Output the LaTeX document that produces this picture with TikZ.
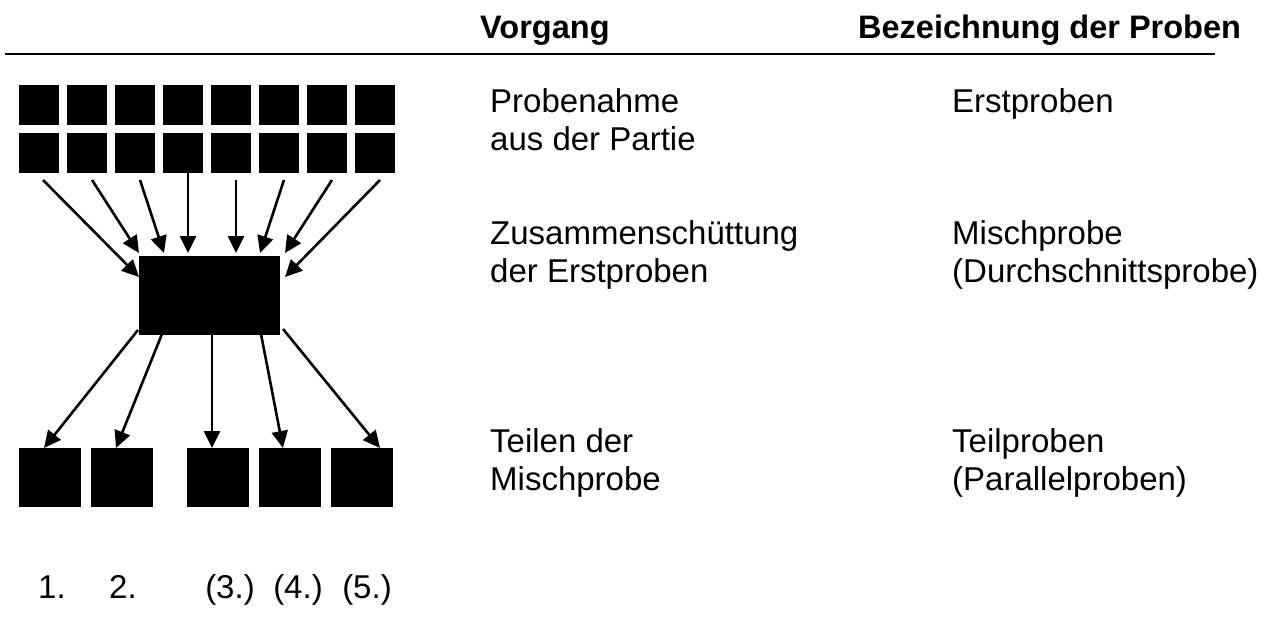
\documentclass[tikz,border=0pt]{standalone}
\usepackage{fontspec}
\setmainfont{Liberation Sans}
\usetikzlibrary{arrows.meta}
\begin{document}
\begin{tikzpicture}[x=1pt,y=-1pt,
  sq/.style={fill=black,draw=none,minimum width=40pt,minimum height=40pt,inner sep=0pt},
  bsq/.style={fill=black,draw=none,minimum width=62pt,minimum height=59pt,inner sep=0pt},
  txt/.style={font=\fontsize{33}{38}\selectfont,inner sep=0pt,anchor=base west},
  hdr/.style={font=\fontsize{32.5}{38}\selectfont\bfseries,inner sep=0pt,anchor=base west},
  num/.style={font=\fontsize{33}{38}\selectfont,inner sep=0pt,anchor=base},
  arr/.style={line width=2.6pt,-{Triangle[length=17pt,width=16pt]}}]
\useasboundingbox (0,0) rectangle (1274,637);
% header
\node[hdr] (h1) at (480,38) {Vorgang};
\node[hdr] (h2) at (858,38) {Bezeichnung der Proben};
\coordinate (l1) at (5,54);
\coordinate (l2) at (1215,54);
\draw[line width=2pt] (l1) -- (l2);
% top squares
\foreach \i/\x in {1/39,2/87,3/135,4/183,5/231,6/279,7/327,8/375}{
  \node[sq] (a\i) at (\x,104.5) {};
  \node[sq] (t\i) at (\x,152.5) {};
}
% mixing box
\node[fill=black,draw=none,minimum width=141pt,minimum height=79pt,inner sep=0pt] (m) at (209.5,295.5) {};
% bottom squares
\foreach \i/\x in {1/50,2/122,3/218,4/290,5/362}{
  \node[bsq] (b\i) at (\x,477.5) {};
}
% top arrows
\coordinate (s1) at (43,180);  \coordinate (e1) at (139,277);
\coordinate (s2) at (92,180);  \coordinate (e2) at (139,253);
\coordinate (s3) at (140,180); \coordinate (e3) at (164,253);
\coordinate (e4) at (188,253);
\coordinate (s5) at (236,180); \coordinate (e5) at (236,253);
\coordinate (s6) at (284,180); \coordinate (e6) at (260,253);
\coordinate (s7) at (332,180); \coordinate (e7) at (285,253);
\coordinate (s8) at (380,180); \coordinate (e8) at (285,277);
\draw[arr] (s1) -- (e1);
\draw[arr] (s2) -- (e2);
\draw[arr] (s3) -- (e3);
\draw[arr] (t4.south -| e4) -- (e4);
\draw[arr] (s5) -- (e5);
\draw[arr] (s6) -- (e6);
\draw[arr] (s7) -- (e7);
\draw[arr] (s8) -- (e8);
% bottom arrows
\coordinate (u1) at (138,330); \coordinate (v1) at (44,448);
\coordinate (u2) at (162,334); \coordinate (v2) at (116,448);
\coordinate (u3) at (212,334); \coordinate (v3) at (212,448);
\coordinate (u4) at (261,334); \coordinate (v4) at (283,448);
\coordinate (u5) at (283,329); \coordinate (v5) at (380,448);
\draw[arr] (u1) -- (v1);
\draw[arr] (u2) -- (v2);
\draw[arr] (u3) -- (v3);
\draw[arr] (u4) -- (v4);
\draw[arr] (u5) -- (v5);
% numbers
\node[num] (n1) at (52,598) {1.};
\node[num] (n2) at (123,598) {2.};
\node[num] (n3) at (230,598) {(3.)};
\node[num] (n4) at (298,598) {(4.)};
\node[num] (n5) at (367,598) {(5.)};
% text column 1
\node[txt] (p1) at (490,112) {Probenahme};
\node[txt] (p2) at (490,150) {aus der Partie};
\node[txt] (z1) at (490,244) {Zusammenschüttung};
\node[txt] (z2) at (490,282) {der Erstproben};
\node[txt] (q1) at (490,452) {Teilen der};
\node[txt] (q2) at (490,490) {Mischprobe};
% text column 2
\node[txt] (r1) at (952,112) {Erstproben};
\node[txt] (r2) at (952,244) {Mischprobe};
\node[txt] (r3) at (952,282) {(Durchschnittsprobe)};
\node[txt] (r4) at (952,452) {Teilproben};
\node[txt] (r5) at (952,490) {(Parallelproben)};
\end{tikzpicture}
\end{document}
